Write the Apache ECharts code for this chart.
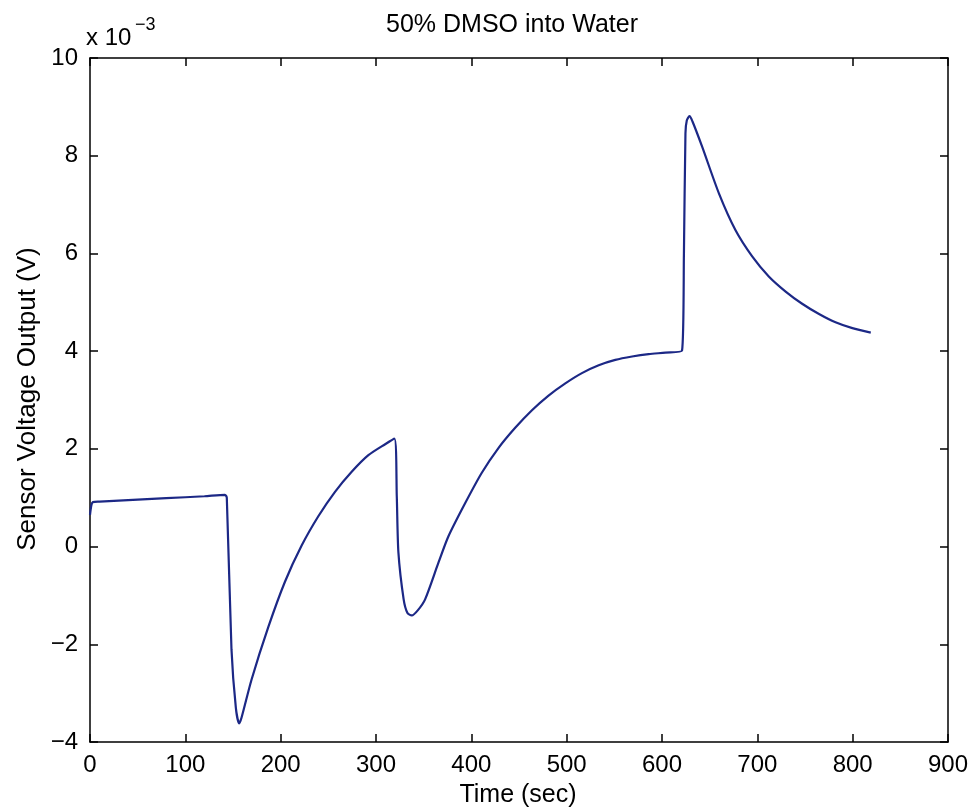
<!DOCTYPE html>
<html>
<head>
<meta charset="utf-8">
<script src="https://cdn.jsdelivr.net/npm/echarts@6/dist/echarts.min.js"></script>
<style>
html,body{margin:0;padding:0;background:#fff;}
#chart{width:973px;height:808px;}
</style>
</head>
<body>
<div id="chart"></div>
<script>
// Time (sec)
var timeSec = [0, 1.5, 3, 10, 40, 80, 120, 141.5, 143.5, 148.4, 153, 156.5, 159, 169.5, 187, 204.5, 222, 239.5, 257, 274.5, 292, 310, 319.3, 321.8, 323.5, 329, 333, 337.5, 344, 351.5, 365.5, 376, 393.6, 411, 428.6, 446, 463.6, 481, 498.6, 516, 533.6, 551, 568.6, 586, 603.6, 621, 623, 624.6, 626, 628.9, 632, 642, 659.7, 677, 694.6, 712, 729.7, 747, 764.7, 782, 799.7, 819];
// Sensor voltage output (x 10^-3 V)
var voltage = [0.65, 0.85, 0.91, 0.92, 0.95, 0.99, 1.03, 1.06, 1.0, -2.1, -3.3, -3.62, -3.5, -2.72, -1.65, -0.72, 0.02, 0.62, 1.12, 1.53, 1.87, 2.1, 2.21, 1.03, -0.12, -1.08, -1.36, -1.41, -1.3, -1.08, -0.33, 0.21, 0.89, 1.51, 2.02, 2.43, 2.79, 3.09, 3.34, 3.55, 3.71, 3.82, 3.89, 3.94, 3.97, 4.01, 6.0, 8.46, 8.72, 8.81, 8.7, 8.19, 7.23, 6.48, 5.94, 5.53, 5.22, 4.97, 4.76, 4.59, 4.47, 4.38];
var xTicks = [0, 100, 200, 300, 400, 500, 600, 700, 800, 900];
var yTicks = [-4, -2, 0, 2, 4, 6, 8, 10];
var titleText = '50% DMSO into Water';
var xLabel = 'Time (sec)';
var yLabel = 'Sensor Voltage Output (V)';

var seriesData = timeSec.map(function (t, i) { return [t, voltage[i]]; });
var FONT = '"Liberation Sans", Arial, Helvetica, sans-serif';
var axisCommon = {
  type: 'value',
  axisLine: { show: true, onZero: false, lineStyle: { color: '#000', width: 1.5 } },
  axisTick: { show: true, inside: true, length: 8, lineStyle: { color: '#000', width: 1.5 } },
  splitLine: { show: false }
};
function fmt(v) { return String(v).replace('-', '\u2212'); }

var chart = echarts.init(document.getElementById('chart'), null, { renderer: 'canvas' });
chart.setOption({
  backgroundColor: '#ffffff',
  animation: false,
  grid: { left: 90, right: 25, top: 58, bottom: 66, containLabel: false },
  xAxis: [
    Object.assign({}, axisCommon, {
      position: 'bottom', min: xTicks[0], max: xTicks[xTicks.length - 1], interval: 100,
      axisLabel: { show: true, fontSize: 24, color: '#000', fontFamily: FONT, margin: 11, formatter: fmt }
    }),
    Object.assign({}, axisCommon, {
      position: 'top', min: xTicks[0], max: xTicks[xTicks.length - 1], interval: 100,
      axisLabel: { show: false }
    })
  ],
  yAxis: [
    Object.assign({}, axisCommon, {
      position: 'left', min: yTicks[0], max: yTicks[yTicks.length - 1], interval: 2,
      axisLabel: { show: true, fontSize: 24, color: '#000', fontFamily: FONT, margin: 12, formatter: fmt }
    }),
    Object.assign({}, axisCommon, {
      position: 'right', min: yTicks[0], max: yTicks[yTicks.length - 1], interval: 2,
      axisLabel: { show: false }
    })
  ],
  series: [{
    type: 'line',
    xAxisIndex: 0,
    yAxisIndex: 0,
    data: seriesData,
    showSymbol: false,
    smooth: 0.25,
    lineStyle: { color: '#1c2886', width: 2.2 }
  }],
  graphic: [
    { type: 'text', x: 512, y: 25, style: { text: titleText, font: '25px ' + FONT, fill: '#000', textAlign: 'center', textVerticalAlign: 'middle' } },
    { type: 'text', x: 518, y: 795, style: { text: xLabel, font: '25px ' + FONT, fill: '#000', textAlign: 'center', textVerticalAlign: 'middle' } },
    { type: 'text', x: 28, y: 399, rotation: Math.PI / 2, style: { text: yLabel, font: '26px ' + FONT, fill: '#000', textAlign: 'center', textVerticalAlign: 'middle' } },
    { type: 'text', x: 86, y: 38, style: { text: 'x 10', font: '24px ' + FONT, fill: '#000', textAlign: 'left', textVerticalAlign: 'middle' } },
    { type: 'text', x: 135, y: 25, style: { text: '\u22123', font: '18px ' + FONT, fill: '#000', textAlign: 'left', textVerticalAlign: 'middle' } }
  ]
});
</script>
</body>
</html>
